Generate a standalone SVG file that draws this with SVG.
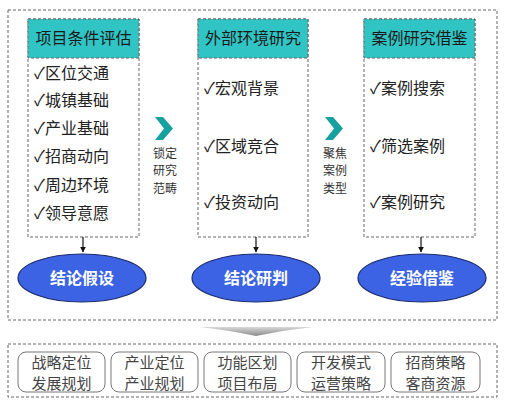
<svg xmlns="http://www.w3.org/2000/svg" width="506" height="405" viewBox="0 0 506 405">
<defs>
<style>
text{font-family:"Noto Sans CJK SC","Noto Sans",sans-serif;}
.dash{fill:#fff;stroke:#666;stroke-width:1;stroke-dasharray:3 2;}
.hdr{fill:#30c4c4;stroke:#666;stroke-width:1;stroke-dasharray:3 2;}
.ht{font-size:16px;fill:#1a1a1a;text-anchor:middle;}
.it{font-size:16px;fill:#222;}
.ell{fill:#3b63e3;stroke:#1c2b6b;stroke-width:1.2;}
.et{font-size:16px;font-weight:700;fill:#fff;text-anchor:middle;}
.chev{fill:#17a0a0;}
.side{font-size:12px;fill:#333;text-anchor:middle;}
.bb{fill:#fff;stroke:#777;stroke-width:1;}
.bt{font-size:15px;fill:#444;text-anchor:middle;}
.arr{stroke:#111;stroke-width:1.2;fill:none;marker-end:url(#ah);}
</style>
<marker id="ah" viewBox="0 0 10 10" refX="9" refY="5" markerWidth="5" markerHeight="5" orient="auto"><path d="M0,0 L10,5 L0,10 z" fill="#111"/></marker>
<linearGradient id="wg" x1="0" y1="0" x2="0" y2="1"><stop offset="0" stop-color="#d8d8d8"/><stop offset="1" stop-color="#8a8a8a"/></linearGradient>
</defs>
<rect width="506" height="405" fill="#fff"/>
<rect class="dash" x="8" y="10" width="489" height="310"/>
<rect class="dash" x="8" y="344" width="489" height="53"/>
<path d="M200,327 L313,327 Q285,330 256,336 Q227,330 200,327 Z" fill="url(#wg)"/>
<g id="col1">
<rect class="dash" x="28" y="19" width="111" height="218"/>
<rect class="hdr" x="28" y="19" width="111" height="39"/>
<text class="ht" x="83.5" y="44">项目条件评估</text>
<text class="it" x="34" y="79">✓区位交通</text>
<text class="it" x="34" y="106">✓城镇基础</text>
<text class="it" x="34" y="134">✓产业基础</text>
<text class="it" x="34" y="162">✓招商动向</text>
<text class="it" x="34" y="191">✓周边环境</text>
<text class="it" x="34" y="219">✓领导意愿</text>
</g>
<g id="col2">
<rect class="dash" x="198" y="19" width="110" height="218"/>
<rect class="hdr" x="198" y="19" width="110" height="39"/>
<text class="ht" x="253" y="44">外部环境研究</text>
<text class="it" x="204" y="94">✓宏观背景</text>
<text class="it" x="204" y="152">✓区域竞合</text>
<text class="it" x="204" y="208">✓投资动向</text>
</g>
<g id="col3">
<rect class="dash" x="364" y="19" width="111" height="218"/>
<rect class="hdr" x="364" y="19" width="111" height="39"/>
<text class="ht" x="419.5" y="44">案例研究借鉴</text>
<text class="it" x="370" y="94">✓案例搜索</text>
<text class="it" x="370" y="152">✓筛选案例</text>
<text class="it" x="370" y="208">✓案例研究</text>
</g>
<g id="res1"><ellipse class="ell" cx="82" cy="278" rx="64" ry="24"/><text class="et" x="82" y="284">结论假设</text></g>
<g id="res2"><ellipse class="ell" cx="256" cy="278" rx="64" ry="24"/><text class="et" x="256" y="284">结论研判</text></g>
<g id="res3"><ellipse class="ell" cx="422" cy="278" rx="64" ry="24"/><text class="et" x="422" y="284">经验借鉴</text></g>
<g id="lbl1">
<text class="side" x="165" y="157.5">锁定</text>
<text class="side" x="165" y="175">研究</text>
<text class="side" x="165" y="192.5">范畴</text>
</g>
<g id="lbl2">
<text class="side" x="335" y="157.5">聚焦</text>
<text class="side" x="335" y="175">案例</text>
<text class="side" x="335" y="192.5">类型</text>
</g>
<g id="connectors">
<path class="arr" d="M83,237 L83,252"/>
<path class="arr" d="M256,237 L256,252"/>
<path class="arr" d="M421,237 L421,252"/>
<polygon class="chev" points="155,117 163,117 173,128.5 163,140 155,140 164,128.5"/>
<polygon class="chev" points="325,117 333,117 343,128.5 333,140 325,140 334,128.5"/>
</g>
<g id="b1"><rect class="bb" x="18" y="352" width="87" height="40" rx="8"/><text class="bt" x="61.5" y="368">战略定位</text><text class="bt" x="61.5" y="389">发展规划</text></g>
<g id="b2"><rect class="bb" x="111" y="352" width="87" height="40" rx="8"/><text class="bt" x="154.5" y="368">产业定位</text><text class="bt" x="154.5" y="389">产业规划</text></g>
<g id="b3"><rect class="bb" x="204" y="352" width="87" height="40" rx="8"/><text class="bt" x="247.5" y="368">功能区划</text><text class="bt" x="247.5" y="389">项目布局</text></g>
<g id="b4"><rect class="bb" x="297" y="352" width="88" height="40" rx="8"/><text class="bt" x="341" y="368">开发模式</text><text class="bt" x="341" y="389">运营策略</text></g>
<g id="b5"><rect class="bb" x="391" y="352" width="89" height="40" rx="8"/><text class="bt" x="435.5" y="368">招商策略</text><text class="bt" x="435.5" y="389">客商资源</text></g>
</svg>
